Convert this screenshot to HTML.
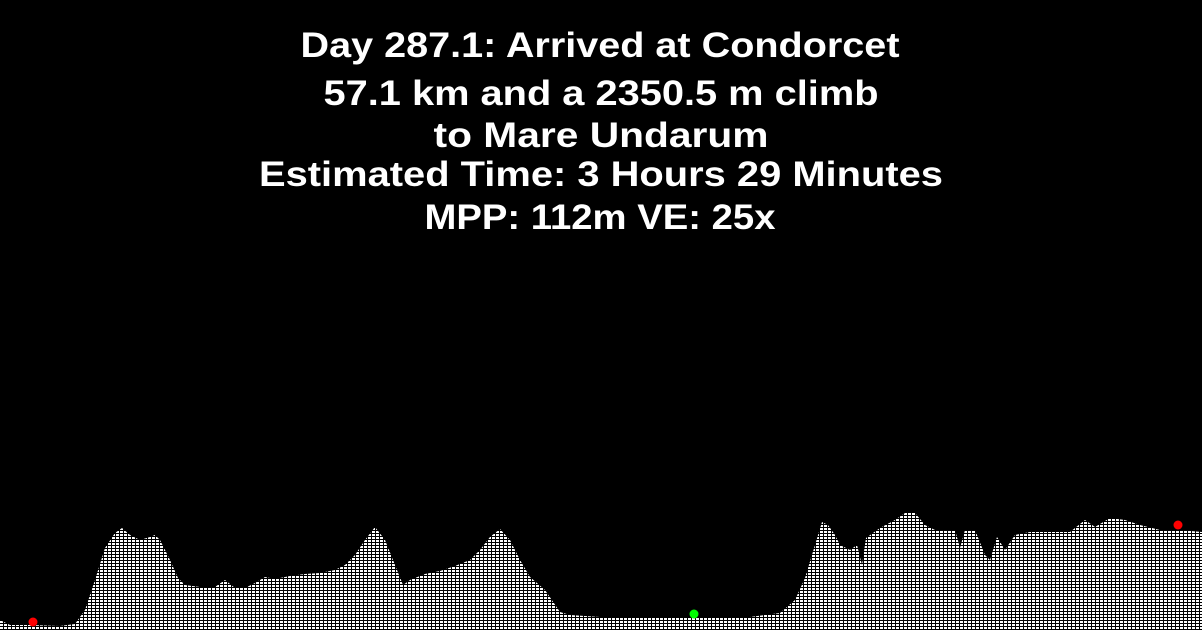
<!DOCTYPE html>
<html><head><meta charset="utf-8"><style>
html,body{margin:0;padding:0;background:#000;}
svg{display:block;}
text{font-family:"Liberation Sans",sans-serif;font-weight:bold;fill:#fff;font-size:35px;}
</style></head><body>
<svg id="chart" width="1202" height="630" viewBox="0 0 1202 630" xmlns="http://www.w3.org/2000/svg">
<defs>
<pattern id="hatch" width="4" height="3" patternUnits="userSpaceOnUse">
<rect width="4" height="3" fill="#000"/>
<rect x="0" y="0" width="3" height="2" fill="#fff"/>
</pattern>
</defs>
<rect width="1202" height="630" fill="#000"/>
<g>
<text x="600" y="57" text-anchor="middle" textLength="599" lengthAdjust="spacingAndGlyphs">Day 287.1: Arrived at Condorcet</text>
<text x="601" y="105" text-anchor="middle" textLength="555" lengthAdjust="spacingAndGlyphs">57.1 km and a 2350.5 m climb</text>
<text x="601" y="147" text-anchor="middle" textLength="335" lengthAdjust="spacingAndGlyphs">to Mare Undarum</text>
<text x="601" y="186" text-anchor="middle" textLength="684" lengthAdjust="spacingAndGlyphs">Estimated Time: 3 Hours 29 Minutes</text>
<text x="600" y="229" text-anchor="middle" textLength="351" lengthAdjust="spacingAndGlyphs">MPP: 112m VE: 25x</text>
</g>
<g id="plot"></g>
</svg>
<script>
// distance along route (pixel-column units 0..1202) and elevation (relative units, higher = taller)
const distances=[0,10,30,60,75,85,95,105,115,122,130,140,150,155,160,170,178,185,200,215,225,235,245,255,265,275,290,305,320,335,345,355,365,375,385,395,403,410,425,440,455,470,480,490,500,510,520,530,545,560,570,600,650,700,750,780,795,805,815,822,828,835,840,850,857,862,866,880,895,905,915,925,935,945,955,960,965,975,985,990,997,1005,1015,1030,1050,1070,1085,1095,1110,1125,1140,1160,1180,1202];
const elevations=[10,5,5,4,6,20,50,82,97,102,95,90,93,95,90,70,52,45,43,43,50,42,42,47,53,51,54,56,57,60,65,75,90,103,90,65,45,50,56,59,64,70,80,93,101,90,70,53,40,18,15,13,13,13,13,17,30,52,85,108,105,95,85,80,85,65,92,102,110,117,117,105,100,100,100,82,100,100,75,70,93,80,95,98,98,98,110,103,112,110,105,100,100,98];
const markerDist=[33,694,1178];
const markerElev=[8,16,105];
const markerColors=['#ff0000','#00ff00','#ff0000'];
const NS='http://www.w3.org/2000/svg';
const plot=document.getElementById('plot');
const xScale=d=>d*(1202/1202);
const yScale=e=>630-e;
let dstr='M'+xScale(distances[0])+',630';
for(let i=0;i<distances.length;i++){dstr+=' L'+xScale(distances[i])+','+yScale(elevations[i]);}
dstr+=' L'+xScale(distances[distances.length-1])+',630 Z';
const area=document.createElementNS(NS,'path');
area.setAttribute('d',dstr);
area.setAttribute('fill','url(#hatch)');


plot.appendChild(area);
for(let i=0;i<markerDist.length;i++){
const c=document.createElementNS(NS,'circle');
c.setAttribute('cx',xScale(markerDist[i]));
c.setAttribute('cy',yScale(markerElev[i]));
c.setAttribute('r',4.5);
c.setAttribute('fill',markerColors[i]);


plot.appendChild(c);
}
</script>
</body></html>
